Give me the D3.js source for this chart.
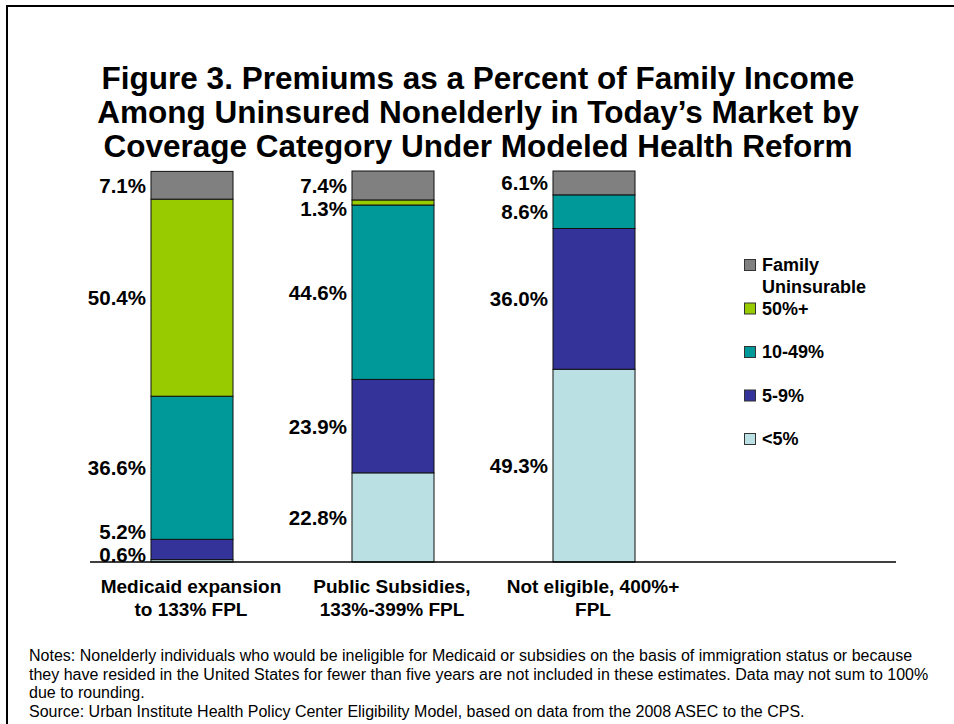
<!DOCTYPE html>
<html>
<head>
<meta charset="utf-8">
<script src="https://cdn.jsdelivr.net/npm/d3@7"></script>
<style>
  html, body { margin: 0; padding: 0; background: #fff; }
  svg text { font-family: "Liberation Sans", Arial, Helvetica, sans-serif; }
</style>
</head>
<body>
<svg id="chart" width="954" height="724"></svg>
<script>
// ---- Data ----
const categories = ["Medicaid expansion|to 133% FPL", "Public Subsidies,|133%-399% FPL", "Not eligible, 400%+|FPL"];
const seriesNames = ["<5%", "5-9%", "10-49%", "50%+", "Family Uninsurable"];
const lessThan5 = [0.6, 22.8, 49.3];
const from5to9 = [5.2, 23.9, 36.0];
const from10to49 = [36.6, 44.6, 8.6];
const over50 = [50.4, 1.3, 0];
const uninsurable = [7.1, 7.4, 6.1];
const seriesColors = ["#BBE0E3", "#333399", "#009999", "#99CC00", "#808080"];
const titleLines = [
  "Figure 3. Premiums as a Percent of Family Income",
  "Among Uninsured Nonelderly in Today\u2019s Market by",
  "Coverage Category Under Modeled Health Reform"
];
const noteLines = [
  "Notes: Nonelderly individuals who would be ineligible for Medicaid or subsidies on the basis of immigration status or because",
  "they have resided in the United States for fewer than five years are not included in these estimates. Data may not sum to 100%",
  "due to rounding.",
  "Source: Urban Institute Health Policy Center Eligibility Model, based on data from the 2008 ASEC to the CPS."
];
const legendLabels = ["Family|Uninsurable", "50%+", "10-49%", "5-9%", "<5%"];
const legendColors = ["#808080", "#99CC00", "#009999", "#333399", "#BBE0E3"];

const seriesValues = [lessThan5, from5to9, from10to49, over50, uninsurable];

// ---- Build table ----
const table = categories.map((c, i) => {
  const row = { cat: c };
  seriesNames.forEach((s, j) => row[s] = seriesValues[j][i]);
  return row;
});
const stacked = d3.stack().keys(seriesNames)(table);

const svg = d3.select("#chart");

// Frame
svg.append("line").attr("x1", 7).attr("x2", 7).attr("y1", 5).attr("y2", 724)
  .attr("stroke", "#000").attr("stroke-width", 2);
svg.append("line").attr("x1", 6).attr("x2", 954).attr("y1", 6).attr("y2", 6)
  .attr("stroke", "#000").attr("stroke-width", 2);

// Title
svg.append("g").selectAll("text").data(titleLines).join("text")
  .attr("x", 478).attr("y", (d, i) => 89 + i * 34)
  .attr("text-anchor", "middle")
  .attr("font-size", 31.5).attr("font-weight", "bold").attr("fill", "#000")
  .text(d => d);

// Scales
const x = d3.scaleBand().domain(categories).range([91.5, 694.5])
  .paddingInner(0.592).paddingOuter(0.296);
const y = d3.scaleLinear().domain([0, 100]).range([562, 171]);

// Bars
const gBars = svg.append("g");
stacked.forEach((layer, j) => {
  gBars.append("g").selectAll("rect").data(layer.filter(d => d[1] - d[0] > 0)).join("rect")
    .attr("x", d => x(d.data.cat))
    .attr("width", x.bandwidth())
    .attr("y", d => y(d[1]))
    .attr("height", d => y(d[0]) - y(d[1]))
    .attr("fill", seriesColors[j])
    .attr("stroke", "#111").attr("stroke-width", 1);
});

// Axis baseline
svg.append("line").attr("x1", 90).attr("x2", 896).attr("y1", y(0)).attr("y2", y(0))
  .attr("stroke", "#000").attr("stroke-width", 1.5);

// Value labels with simple collision handling
const gap = 23;
const gLabels = svg.append("g");
categories.forEach((c, i) => {
  const items = [];
  stacked.forEach((layer, j) => {
    const d = layer[i];
    const v = d[1] - d[0];
    if (v > 0) items.push({ v, cy: y((d[0] + d[1]) / 2) });
  });
  for (let k = items.length - 2; k >= 0; k--) {
    items[k].cy = Math.max(items[k].cy, items[k + 1].cy + gap);
  }
  items[0].cy = Math.min(items[0].cy, y(0) - 7);
  for (let k = 1; k < items.length; k++) {
    items[k].cy = Math.min(items[k].cy, items[k - 1].cy - gap);
  }
  items.forEach(it => {
    gLabels.append("text")
      .attr("x", x(c) - 5).attr("y", it.cy).attr("dy", "0.36em")
      .attr("text-anchor", "end").attr("font-size", 20.5).attr("font-weight", "bold")
      .text(d3.format(".1f")(it.v) + "%");
  });
});

// Category labels
const gCat = svg.append("g");
categories.forEach(c => {
  c.split("|").forEach((line, k) => {
    gCat.append("text")
      .attr("x", x(c) + x.bandwidth() / 2 - 1).attr("y", 593 + k * 23)
      .attr("text-anchor", "middle").attr("font-size", 19).attr("font-weight", "bold")
      .text(line);
  });
});

// Legend
const gLeg = svg.append("g");
legendLabels.forEach((lab, i) => {
  const cy = 265 + i * 43.5;
  gLeg.append("rect").attr("x", 744.5).attr("y", cy - 5.5).attr("width", 11).attr("height", 11)
    .attr("fill", legendColors[i]).attr("stroke", "#333").attr("stroke-width", 1);
  lab.split("|").forEach((line, k) => {
    gLeg.append("text").attr("x", 762).attr("y", cy + k * 22).attr("dy", "0.36em")
      .attr("font-size", 18).attr("font-weight", "bold").text(line);
  });
});

// Notes
svg.append("g").selectAll("text").data(noteLines).join("text")
  .attr("x", 29).attr("y", (d, i) => 661 + i * 18.7)
  .attr("font-size", 16).attr("fill", "#000")
  .text(d => d);
</script>
</body>
</html>
